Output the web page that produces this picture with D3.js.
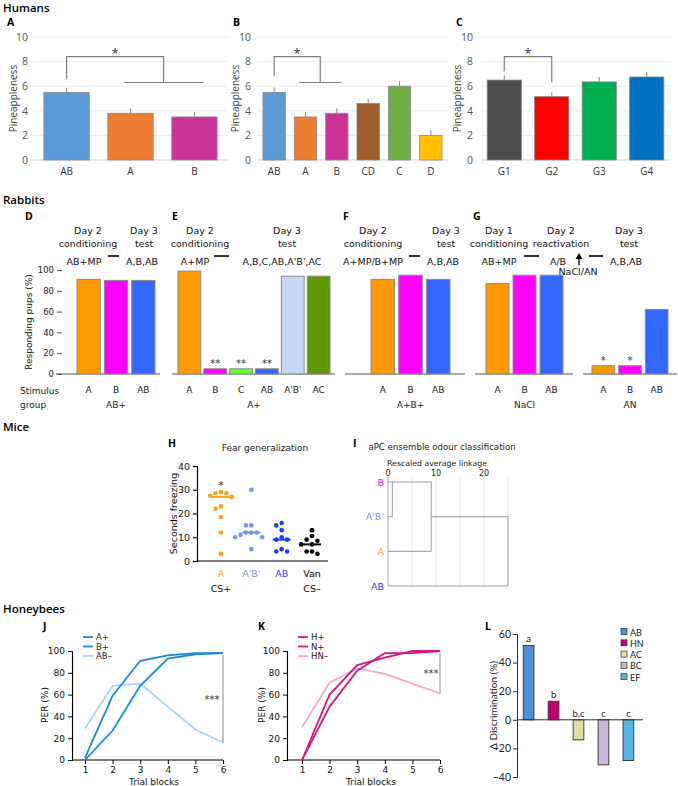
<!DOCTYPE html>
<html><head><meta charset="utf-8">
<script src="https://cdn.jsdelivr.net/npm/d3@7"></script>
<style>body{margin:0;background:#fff}svg{display:block}</style>
</head><body><svg id="c" width="678" height="786"></svg>
<script>
// ---------------- DATA ----------------
const humTicks = [0, 2, 4, 6, 8, 10];
const humA_cats = ["AB", "A", "B"];
const humA_vals = [5.5, 3.8, 3.5];
const humA_err = [0.38, 0.4, 0.4];
const humB_cats = ["AB", "A", "B", "CD", "C", "D"];
const humB_vals = [5.5, 3.5, 3.8, 4.6, 6.0, 2.0];
const humB_err = [0.4, 0.4, 0.4, 0.4, 0.4, 0.4];
const humC_cats = ["G1", "G2", "G3", "G4"];
const humC_vals = [6.5, 5.15, 6.35, 6.75];
const humC_err = [0.4, 0.4, 0.4, 0.4];

const rabTicks = [0, 20, 40, 60, 80, 100];
const rabD_stim = ["A", "B", "AB"];
const rabD_vals = [91, 90, 90];
const rabE_stim = ["A", "B", "C", "AB", "A'B'", "AC"];
const rabE_vals = [99, 5, 5, 5, 94, 94];
const rabE_sig = ["", "**", "**", "**", "", ""];
const rabF_stim = ["A", "B", "AB"];
const rabF_vals = [91, 95, 91];
const rabG1_stim = ["A", "B", "AB"];
const rabG1_vals = [87, 95, 95];
const rabG2_stim = ["A", "B", "AB"];
const rabG2_vals = [8, 8, 62];
const rabG2_sig = ["*", "*", ""];
const rabGroups = ["AB+", "A+", "A+B+", "NaCl", "AN"];

const miceGroups = ["A", "A'B'", "AB", "Van"];
const miceSub = ["CS+", "", "", "CS–"];
const miceVals = [
  [29, 28.5, 28.5, 27.5, 27, 23, 22, 18.5, 12, 3],
  [30, 15, 15, 12, 12, 12, 11, 10, 10, 5],
  [16, 15, 13, 10, 9, 9, 5, 4, 4],
  [13, 10.5, 9, 8.5, 7, 7, 4, 4, 3]
];
const miceMedian = [27, 12, 9, 7];
const miceTicks = [0, 10, 20, 30, 40];

const dendLeaves = ["B", "A'B'", "A", "AB"];
const dendMerges = [
  { left: "B", right: "A'B'", dist: 0.9 },
  { left: "m0", right: "A", dist: 9 },
  { left: "m1", right: "AB", dist: 25 }
];
const dendTicks = [0, 10, 20];
const dendGrid = [0, 5, 10, 15, 20, 25];

const trials = [1, 2, 3, 4, 5, 6];
const perTicks = [0, 20, 40, 60, 80, 100];
const beeJ_names = ["A+", "B+", "AB–"];
const beeJ_vals = [
  [2, 59, 91, 96, 98, 98],
  [0, 27, 68, 93, 97, 98],
  [29, 68, 70, 49, 28, 16]
];
const beeK_names = ["H+", "N+", "HN–"];
const beeK_vals = [
  [0, 60, 87, 94, 100, 100],
  [0, 49, 82, 98, 98, 100],
  [30, 71, 84, 79, 70, 61]
];
const beeL_cats = ["AB", "HN", "AC", "BC", "EF"];
const beeL_vals = [52, 13, -14, -31.5, -28.5];
const beeL_letters = ["a", "b", "b,c", "c", "c"];
const beeL_ticks = [-40, -20, 0, 20, 40, 60];

// ---------------- STYLE ----------------
const FH = "'Open Sans', sans-serif";
const FV = "'DejaVu Sans', sans-serif";
const FL = "Lato, sans-serif";
const humA_cols = ["#5b9bd5", "#ed7d31", "#cc3399"];
const humB_cols = ["#5b9bd5", "#ed7d31", "#cc3399", "#9e5b2c", "#70ad47", "#ffc000"];
const humC_cols = ["#4d4d4d", "#ff0000", "#00b050", "#0070c0"];
const rabCol = { "A": "#ff9900", "B": "#ff00ff", "C": "#66ff33", "AB": "#3366ff", "A'B'": "#c6d9f1", "AC": "#5f9900" };
const miceCol = ["#f5a31f", "#7b96ea", "#1a40ff", "#000000"];
const dendCol = { "B": "#ff00ff", "A'B'": "#7b96ea", "A": "#f5a31f", "AB": "#1a40ff" };
const beeJ_cols = ["#1a8ad6", "#1a8ad6", "#a8d6f5"];
const beeK_cols = ["#d6177f", "#d6177f", "#f2a8cc"];
const beeL_cols = ["#4f8fd2", "#c2006b", "#dfe0a3", "#c5b7da", "#55b5e8"];

const svg = d3.select("#c");

function addText(x, y, s, o = {}) {
  const t = svg.append("text").attr("x", x).attr("y", y).text(s)
    .attr("font-family", o.font || FV).attr("font-size", o.size || 9.5)
    .attr("fill", o.fill || "#000").attr("text-anchor", o.anchor || "start");
  if (o.weight) t.attr("font-weight", o.weight);
  if (o.baseline) t.attr("dominant-baseline", o.baseline);
  if (o.rotate) t.attr("transform", `rotate(-90,${x},${y})`);
  return t;
}
function styleAxis(g, font, size, fill) {
  g.selectAll("text").attr("font-family", font).attr("font-size", size).attr("fill", fill || "#000");
}

// ---------------- SECTION TITLES ----------------
addText(3, 12, "Humans", { font: FH, size: 11.5, weight: 600 });
addText(3, 204, "Rabbits", { font: FH, size: 11.5, weight: 600 });
addText(3, 431, "Mice", { font: FH, size: 11.5, weight: 600 });
addText(3, 613, "Honeybees", { font: FH, size: 11.5, weight: 600 });
[["A", 7, 26], ["B", 233, 26], ["C", 456, 26], ["D", 25, 220], ["E", 172, 220], ["F", 343, 220], ["G", 473, 220],
 ["H", 168, 447], ["I", 353, 447], ["J", 43, 630], ["K", 258, 630], ["L", 485, 630]]
  .forEach(([s, x, y]) => addText(x, y, s, { font: FH, size: 10.5, weight: 700 }));

// ---------------- HUMANS ----------------
const yH = d3.scaleLinear([0, 10], [160, 37]);
function humanPanel(cats, vals, errs, cols, xr, pi, po, labelX, ylabX, bracket) {
  const x = d3.scaleBand(cats, xr).paddingInner(pi).paddingOuter(po);
  const g = svg.append("g");
  g.selectAll("line.grid").data(humTicks).join("line")
    .attr("x1", xr[0]).attr("x2", xr[1]).attr("y1", d => yH(d)).attr("y2", d => yH(d))
    .attr("stroke", d => d === 0 ? "#d4d4d4" : "#eeeeee").attr("stroke-width", 1);
  g.selectAll("rect").data(cats).join("rect")
    .attr("x", d => x(d)).attr("width", x.bandwidth())
    .attr("y", (d, i) => yH(vals[i])).attr("height", (d, i) => yH(0) - yH(vals[i]))
    .attr("fill", (d, i) => cols[i]).attr("stroke", "#8a8a8a").attr("stroke-width", 0.8);
  g.selectAll("line.err").data(cats).join("line")
    .attr("x1", d => x(d) + x.bandwidth() / 2).attr("x2", d => x(d) + x.bandwidth() / 2)
    .attr("y1", (d, i) => yH(vals[i])).attr("y2", (d, i) => yH(vals[i] + errs[i]))
    .attr("stroke", "#8a8a8a").attr("stroke-width", 1);
  const ya = g.append("g").attr("transform", `translate(${labelX},0)`)
    .call(d3.axisLeft(yH).tickValues(humTicks).tickSize(0).tickPadding(0));
  ya.select(".domain").remove();
  styleAxis(ya, FH, 10.5, "#555");
  const xa = g.append("g").attr("transform", "translate(0,160)")
    .call(d3.axisBottom(x).tickSize(0).tickPadding(8));
  xa.select(".domain").remove();
  styleAxis(xa, FH, 10, "#333");
  addText(ylabX, (yH(0) + yH(10)) / 2, "Pineappleness", { font: FH, size: 10, fill: "#404040", anchor: "middle", baseline: "central", rotate: true });
  const c = d => x(d) + x.bandwidth() / 2;
  const path = d3.path();
  bracket(path, x, c);
  g.append("path").attr("d", path.toString()).attr("fill", "none").attr("stroke", "#7f7f7f").attr("stroke-width", 1.2);
  return { x, c };
}
// A
humanPanel(humA_cats, humA_vals, humA_err, humA_cols, [33, 228], 0.29, 0.17, 28, 13, (p, x, c) => {
  const gx1 = x("A") + x.bandwidth() * 0.35, gx2 = x("B") + x.bandwidth() * 0.7, mid = (gx1 + gx2) / 2;
  p.moveTo(c("AB"), yH(6.6)); p.lineTo(c("AB"), yH(8.4)); p.lineTo(mid, yH(8.4)); p.lineTo(mid, yH(6.3));
  p.moveTo(gx1, yH(6.3)); p.lineTo(gx2, yH(6.3));
  addText((c("AB") + mid) / 2, yH(8.4) + 1, "*", { font: FH, size: 13, anchor: "middle", fill: "#333" });
});
// B
humanPanel(humB_cats, humB_vals, humB_err, humB_cols, [257, 448], 0.286, 0.19, 251, 235, (p, x, c) => {
  const gx1 = x("A") + x.bandwidth() * 0.22, gx2 = x("B") + x.bandwidth() * 0.7, mid = (gx1 + gx2) / 2;
  p.moveTo(c("AB"), yH(6.8)); p.lineTo(c("AB"), yH(8.4)); p.lineTo(mid, yH(8.4)); p.lineTo(mid, yH(6.3));
  p.moveTo(gx1, yH(6.3)); p.lineTo(gx2, yH(6.3));
  addText((c("AB") + mid) / 2, yH(8.4) + 1, "*", { font: FH, size: 13, anchor: "middle", fill: "#333" });
});
// C
humanPanel(humC_cats, humC_vals, humC_err, humC_cols, [481, 670], 0.28, 0.13, 473, 457, (p, x, c) => {
  p.moveTo(c("G1"), yH(7.2)); p.lineTo(c("G1"), yH(8.4)); p.lineTo(c("G2"), yH(8.4)); p.lineTo(c("G2"), yH(6.3));
  addText((c("G1") + c("G2")) / 2, yH(8.4) + 1, "*", { font: FH, size: 13, anchor: "middle", fill: "#333" });
});

// ---------------- RABBITS ----------------
const yR = d3.scaleLinear([0, 100], [374, 270]);
function rabbitSeg(stim, vals, xr, base, sig) {
  const x = d3.scaleBand(stim, xr).paddingInner(xr[1] - xr[0] > 120 ? 0.12 : 0.15).paddingOuter(0);
  const g = svg.append("g");
  g.append("line").attr("x1", base[0]).attr("x2", base[1]).attr("y1", yR(0)).attr("y2", yR(0)).attr("stroke", "#555").attr("stroke-width", 1);
  g.selectAll("rect").data(stim).join("rect")
    .attr("x", d => x(d)).attr("width", x.bandwidth())
    .attr("y", (d, i) => yR(vals[i])).attr("height", (d, i) => yR(0) - yR(vals[i]))
    .attr("fill", d => rabCol[d]).attr("stroke", "#8c8c8c").attr("stroke-width", 1);
  if (sig) g.selectAll("text.sig").data(stim).join("text")
    .attr("x", d => x(d) + x.bandwidth() / 2).attr("y", (d, i) => yR(vals[i]) - 2)
    .attr("text-anchor", "middle").attr("font-family", FV).attr("font-size", 10).attr("fill", "#333")
    .text((d, i) => sig[i]);
  const xa = g.append("g").attr("transform", `translate(0,${yR(0)})`).call(d3.axisBottom(x).tickSize(0).tickPadding(13));
  xa.select(".domain").remove();
  styleAxis(xa, FV, 9, "#222");
  return (xr[0] + xr[1]) / 2;
}
const rCenters = [
  rabbitSeg(rabD_stim, rabD_vals, [77, 155], [56, 160]),
  rabbitSeg(rabE_stim, rabE_vals, [178, 330], [172, 335], rabE_sig),
  rabbitSeg(rabF_stim, rabF_vals, [371, 450], [345, 465]),
  rabbitSeg(rabG1_stim, rabG1_vals, [486, 563], [475, 573]),
  rabbitSeg(rabG2_stim, rabG2_vals, [592, 668], [583, 677], rabG2_sig)
];
const yRa = svg.append("g").attr("transform", "translate(62,0)").call(d3.axisLeft(yR).tickValues(rabTicks).tickSize(5).tickPadding(3));
yRa.select(".domain").remove();
yRa.selectAll("line").attr("stroke", "#555");
styleAxis(yRa, FV, 8.5, "#222");
addText(29, 322, "Responding pups (%)", { size: 9, anchor: "middle", baseline: "central", rotate: true, fill: "#222" });
addText(20, 394, "Stimulus", { size: 9, fill: "#222" });
addText(20, 408, "group", { size: 9, fill: "#222" });
rabGroups.forEach((s, i) => addText(rCenters[i], 408, s, { size: 9, anchor: "middle", fill: "#222" }));
// headers
const hdr = [
  ["Day 2", 88, 233.5], ["conditioning", 88, 246.5], ["Day 3", 144, 233.5], ["test", 144, 246.5], ["AB+MP", 84, 264.5], ["A,B,AB", 142, 264.5],
  ["Day 2", 200, 233.5], ["conditioning", 200, 246.5], ["A+MP", 195, 264.5], ["Day 3", 287, 233.5], ["test", 287, 246.5], ["A,B,C,AB,A'B',AC", 282, 264.5],
  ["Day 2", 373, 233.5], ["conditioning", 373, 246.5], ["A+MP/B+MP", 373, 264.5], ["Day 3", 446, 233.5], ["test", 446, 246.5], ["A,B,AB", 443, 264.5],
  ["Day 1", 499, 233.5], ["conditioning", 499, 246.5], ["AB+MP", 499, 264.5], ["Day 2", 561, 233.5], ["reactivation", 561, 246.5], ["A/B", 558, 264.5],
  ["NaCl/AN", 578, 274.5], ["Day 3", 629, 233.5], ["test", 629, 246.5], ["A,B,AB", 626, 264.5]
];
hdr.forEach(([s, x, y]) => addText(x, y, s, { size: 9.5, anchor: "middle", fill: "#111" }));
[[108, 119], [214, 229], [409, 420], [524, 539], [589, 603]].forEach(([a, b]) =>
  svg.append("line").attr("x1", a).attr("x2", b).attr("y1", 256).attr("y2", 256).attr("stroke", "#000").attr("stroke-width", 1.6));
svg.append("line").attr("x1", 579).attr("x2", 579).attr("y1", 265).attr("y2", 258).attr("stroke", "#000").attr("stroke-width", 1.4);
svg.append("path").attr("d", "M575.5,259 L579,253 L582.5,259 Z").attr("fill", "#000");

// ---------------- MICE H ----------------
const yM = d3.scaleLinear([0, 40], [561, 466]);
const xM = d3.scalePoint(miceGroups, [221, 312]);
const gM = svg.append("g");
const yMa = gM.append("g").attr("transform", "translate(197,0)").call(d3.axisLeft(yM).tickValues(miceTicks).tickSize(4).tickPadding(3));
yMa.select(".domain").attr("stroke-width", 1.2);
yMa.selectAll("line").attr("stroke-width", 1.2);
styleAxis(yMa, FV, 9.5, "#111");
gM.append("line").attr("x1", 197).attr("x2", 328).attr("y1", yM(0)).attr("y2", yM(0)).attr("stroke", "#000").attr("stroke-width", 1.2);
addText(265, 451, "Fear generalization", { size: 9, anchor: "middle", fill: "#222" });
addText(173, (yM(0) + yM(40)) / 2, "Seconds freezing", { size: 9.5, anchor: "middle", baseline: "central", rotate: true, fill: "#111" });
function dodge(vals, cx, r) {
  const placed = [];
  return vals.map(v => {
    const py = yM(v);
    for (let k = 0; k < 30; k++) {
      const off = (k % 2 === 0 ? 1 : -1) * Math.ceil(k / 2) * (r * 2 + 0.8);
      const ox = cx + off;
      if (placed.every(p => Math.hypot(p[0] - ox, p[1] - py) >= 2 * r + 0.5)) { placed.push([ox, py]); return [ox, py]; }
    }
    return [cx, py];
  });
}
miceGroups.forEach((gname, i) => {
  const cx = xM(gname);
  gM.append("line").attr("x1", cx - 9).attr("x2", cx + 9).attr("y1", yM(miceMedian[i])).attr("y2", yM(miceMedian[i]))
    .attr("stroke", miceCol[i]).attr("stroke-width", 2);
  gM.selectAll(null).data(dodge(miceVals[i], cx, 2.3)).join("circle")
    .attr("cx", d => d[0]).attr("cy", d => d[1]).attr("r", 2.3).attr("fill", miceCol[i]);
  addText(cx, 577, gname, { size: 9.5, anchor: "middle", fill: miceCol[i] });
  if (miceSub[i]) addText(cx, 592, miceSub[i], { size: 9.5, anchor: "middle", fill: "#111" });
});
addText(xM("A"), yM(d3.max(miceVals[0])) - 3, "*", { size: 11, anchor: "middle", fill: "#333" });

// ---------------- MICE I (dendrogram) ----------------
const xD = d3.scaleLinear([0, 25], [388, 508]);
const yD = d3.scalePoint(dendLeaves, [482, 586]);
const gD = svg.append("g");
addText(442, 450, "aPC ensemble odour classification", { size: 8.6, anchor: "middle", fill: "#222" });
addText(437, 466, "Rescaled average linkage", { size: 7.8, anchor: "middle", fill: "#222" });
dendTicks.forEach(t => addText(xD(t), 476, String(t), { size: 8, anchor: "middle", fill: "#222" }));
gD.selectAll("line.grid").data(dendGrid).join("line")
  .attr("x1", d => xD(d)).attr("x2", d => xD(d)).attr("y1", 477).attr("y2", 586)
  .attr("stroke", d => d === 0 ? "#a8a8a8" : "#e6e6e6").attr("stroke-width", 1);
const nodes = {};
dendLeaves.forEach((l, i) => nodes[l] = { row: i, d: 0 });
const dp = d3.path();
dendMerges.forEach((m, i) => {
  const L = nodes[m.left], R = nodes[m.right];
  const yl = yD(dendLeaves[L.row]), yr = yD(dendLeaves[R.row]);
  dp.moveTo(xD(L.d), yl); dp.lineTo(xD(m.dist), yl);
  dp.moveTo(xD(R.d), yr); dp.lineTo(xD(m.dist), yr);
  dp.moveTo(xD(m.dist), yl); dp.lineTo(xD(m.dist), yr);
  nodes["m" + i] = { row: Math.floor((L.row + R.row) / 2), d: m.dist };
});
gD.append("path").attr("d", dp.toString()).attr("fill", "none").attr("stroke", "#9a9a9a").attr("stroke-width", 1);
dendLeaves.forEach(l => addText(384, yD(l), l, { size: 9.5, anchor: "end", baseline: "central", fill: dendCol[l] }));

// ---------------- HONEYBEES J, K ----------------
const yP = d3.scaleLinear([0, 100], [760, 651]);
function beePanel(names, vals, cols, axisX, xr, legX, ylabX, sigStarX) {
  const x = d3.scaleLinear([1, 6], xr);
  const g = svg.append("g");
  const ya = g.append("g").attr("transform", `translate(${axisX},0)`).call(d3.axisLeft(yP).tickValues(perTicks).tickSize(4).tickPadding(3));
  ya.select(".domain").attr("stroke-width", 1.1);
  styleAxis(ya, FV, 9, "#111");
  const xa = g.append("g").attr("transform", `translate(0,${yP(0)})`).call(d3.axisBottom(x).tickValues(trials).tickFormat(d3.format("d")).tickSize(4).tickPadding(3));
  xa.select(".domain").attr("d", `M${axisX},0H${xr[1]}`).attr("stroke-width", 1.1);
  styleAxis(xa, FV, 9, "#111");
  addText((xr[0] + xr[1]) / 2, 785, "Trial blocks", { size: 9, anchor: "middle", fill: "#111" });
  addText(ylabX, 705, "PER (%)", { size: 9, anchor: "middle", baseline: "central", rotate: true, fill: "#111" });
  const line = d3.line().x((d, i) => x(trials[i])).y(d => yP(d));
  vals.slice().reverse().forEach((v, ri) => {
    const i = vals.length - 1 - ri;
    g.append("path").attr("d", line(v)).attr("fill", "none").attr("stroke", cols[i]).attr("stroke-width", 1.8);
  });
  names.forEach((n, i) => {
    const ly = 637 + i * 9.5;
    g.append("line").attr("x1", legX).attr("x2", legX + 10).attr("y1", ly).attr("y2", ly).attr("stroke", cols[i]).attr("stroke-width", 1.8);
    addText(legX + 13, ly, n, { size: 8.5, baseline: "central", fill: "#222" });
  });
  const last = trials.length - 1;
  const yTop = yP(d3.max(vals.slice(0, 2), v => v[last]) - 2), yBot = yP(vals[2][last]);
  g.append("line").attr("x1", xr[1]).attr("x2", xr[1]).attr("y1", yTop).attr("y2", yBot).attr("stroke", "#888").attr("stroke-width", 1);
  addText(sigStarX, (yTop + yBot) / 2 + 4, "***", { size: 10, anchor: "middle", fill: "#333" });
}
beePanel(beeJ_names, beeJ_vals, beeJ_cols, 72, [85, 223], 83, 45, 212);
beePanel(beeK_names, beeK_vals, beeK_cols, 287, [302, 440], 298, 262, 431);

// ---------------- HONEYBEES L ----------------
const yL = d3.scaleLinear([-40, 60], [777, 634]);
const xL = d3.scaleBand(beeL_cats, [517, 640]).paddingInner(0.57).paddingOuter(0.25);
const gL = svg.append("g");
gL.selectAll("rect").data(beeL_cats).join("rect")
  .attr("x", d => xL(d)).attr("width", xL.bandwidth())
  .attr("y", (d, i) => yL(Math.max(0, beeL_vals[i]))).attr("height", (d, i) => Math.abs(yL(beeL_vals[i]) - yL(0)))
  .attr("fill", (d, i) => beeL_cols[i]).attr("stroke", "#333").attr("stroke-width", 0.9);
gL.append("line").attr("x1", 517).attr("x2", 643).attr("y1", yL(0)).attr("y2", yL(0)).attr("stroke", "#333").attr("stroke-width", 1);
const yLa = gL.append("g").attr("transform", "translate(517,0)").call(d3.axisLeft(yL).tickValues(beeL_ticks).tickSize(4).tickPadding(2));
yLa.select(".domain").attr("stroke", "#333");
yLa.selectAll("line").attr("stroke", "#333");
styleAxis(yLa, FL, 10.5, "#222");
beeL_cats.forEach((c, i) => {
  const cx = xL(c) + xL.bandwidth() / 2;
  const ty = beeL_vals[i] > 0 ? yL(beeL_vals[i]) - 3 : yL(0) - 3;
  addText(cx, ty, beeL_letters[i], { font: FL, size: 9.5, anchor: "middle", fill: "#222" });
  const ly = 632 + i * 11.3;
  gL.append("rect").attr("x", 621).attr("y", ly - 3.5).attr("width", 6).attr("height", 6).attr("fill", beeL_cols[i]).attr("stroke", "#333").attr("stroke-width", 0.7);
  addText(630, ly, c, { font: FL, size: 9, baseline: "central", fill: "#222" });
});
addText(493, (yL(60) + yL(-40)) / 2, "Δ Discrimination (%)", { font: FL, size: 10, anchor: "middle", baseline: "central", rotate: true, fill: "#222" });
</script></body></html>
